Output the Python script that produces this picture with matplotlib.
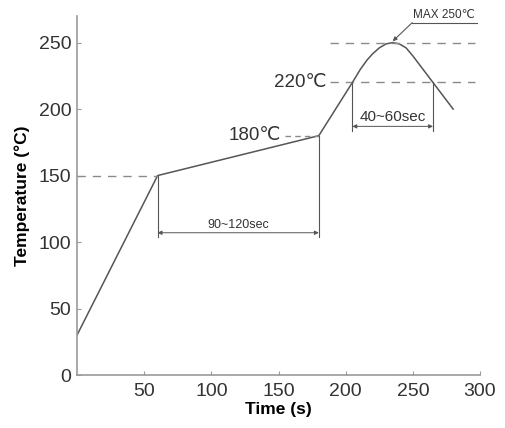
import matplotlib
matplotlib.use('Agg')
import matplotlib.pyplot as plt

# reflow profile
time_s = [0, 60, 180, 205, 211, 216, 220, 225, 230, 235, 240, 245, 250, 265, 280]
temp_c = [30, 150, 180, 220, 230, 237, 241.5, 246, 249, 250, 249, 246, 240, 220, 200]

x_ticks = [50, 100, 150, 200, 250, 300]
y_ticks = [0, 50, 100, 150, 200, 250]

preheat_start, preheat_end, preheat_temp = 60, 180, 150
soak_temp = 180
reflow_temp = 220
peak_temp = 250
reflow_start, reflow_end = 205, 265
peak_time = 235

plt.rcParams['font.family'] = ['Liberation Sans', 'DejaVu Sans']

fig = plt.figure(figsize=(5.05, 4.28), dpi=100)
ax = fig.add_axes([0.1525, 0.1238, 0.798, 0.8388])

line_col = '#555555'
dash_col = '#8a8a8a'
text_col = '#333333'

ax.plot(time_s, temp_c, color=line_col, lw=1.1)

# dashed guides
ax.plot([0, preheat_start], [preheat_temp] * 2, ls=(0, (6, 5)), color=dash_col, lw=1)
ax.plot([188, 296], [peak_temp] * 2, ls=(0, (6, 5)), color=dash_col, lw=1)
ax.plot([188, 296], [reflow_temp] * 2, ls=(0, (6, 5)), color=dash_col, lw=1)
ax.plot([155, preheat_end], [soak_temp] * 2, ls=(0, (4, 3)), color=dash_col, lw=1)

# labels on the curve
ax.text(186, reflow_temp, '220℃', ha='right', va='center', fontsize=13.5, color=text_col)
ax.text(152, soak_temp, '180℃', ha='right', va='center', fontsize=13.5, color=text_col)

# 90~120sec span
ax.plot([preheat_start] * 2, [preheat_temp, 103.5], color=line_col, lw=0.8)
ax.plot([preheat_end] * 2, [soak_temp, 103.5], color=line_col, lw=0.8)
ax.annotate('', xy=(preheat_start, 107), xytext=(preheat_end, 107),
            arrowprops=dict(arrowstyle='<|-|>', color=line_col, lw=0.7,
                            mutation_scale=6, shrinkA=0, shrinkB=0))
ax.text(120, 108.5, '90~120sec', ha='center', va='bottom', fontsize=9, color=text_col)

# 40~60sec span
ax.plot([reflow_start] * 2, [reflow_temp, 183.5], color=line_col, lw=0.8)
ax.plot([reflow_end] * 2, [reflow_temp, 183.5], color=line_col, lw=0.8)
ax.annotate('', xy=(reflow_start, 187), xytext=(reflow_end, 187),
            arrowprops=dict(arrowstyle='<|-|>', color=line_col, lw=0.7,
                            mutation_scale=6, shrinkA=0, shrinkB=0))
ax.text(235, 189, '40~60sec', ha='center', va='bottom', fontsize=11, color=text_col)

# MAX 250 callout
ax.plot([249.5, 298], [265, 265], color=line_col, lw=0.8, clip_on=False)
ax.annotate('', xy=(peak_time, 251), xytext=(249.5, 265),
            arrowprops=dict(arrowstyle='-|>', color=line_col, lw=0.8,
                            mutation_scale=6, shrinkA=0, shrinkB=0),
            annotation_clip=False)
ax.text(273.5, 266, 'MAX 250℃', ha='center', va='bottom', fontsize=8.5,
        color=text_col, clip_on=False)

ax.set_xlim(0, 300)
ax.set_ylim(0, 270)
ax.set_xticks(x_ticks)
ax.set_yticks(y_ticks)

for side in ['top', 'right']:
    ax.spines[side].set_visible(False)
for side in ['left', 'bottom']:
    ax.spines[side].set_color('#999999')
    ax.spines[side].set_linewidth(1.2)

ax.tick_params(direction='in', length=3, color='#999999', labelsize=14,
               labelcolor=text_col)
ax.tick_params(axis='x', pad=6)
ax.tick_params(axis='y', pad=4)

ax.set_xlabel('Time (s)', fontsize=12.5, fontweight='bold', labelpad=1)
ax.set_ylabel('Temperature (°C)', fontsize=12.5, fontweight='bold', labelpad=6)

fig.savefig('out.png', dpi=100)
